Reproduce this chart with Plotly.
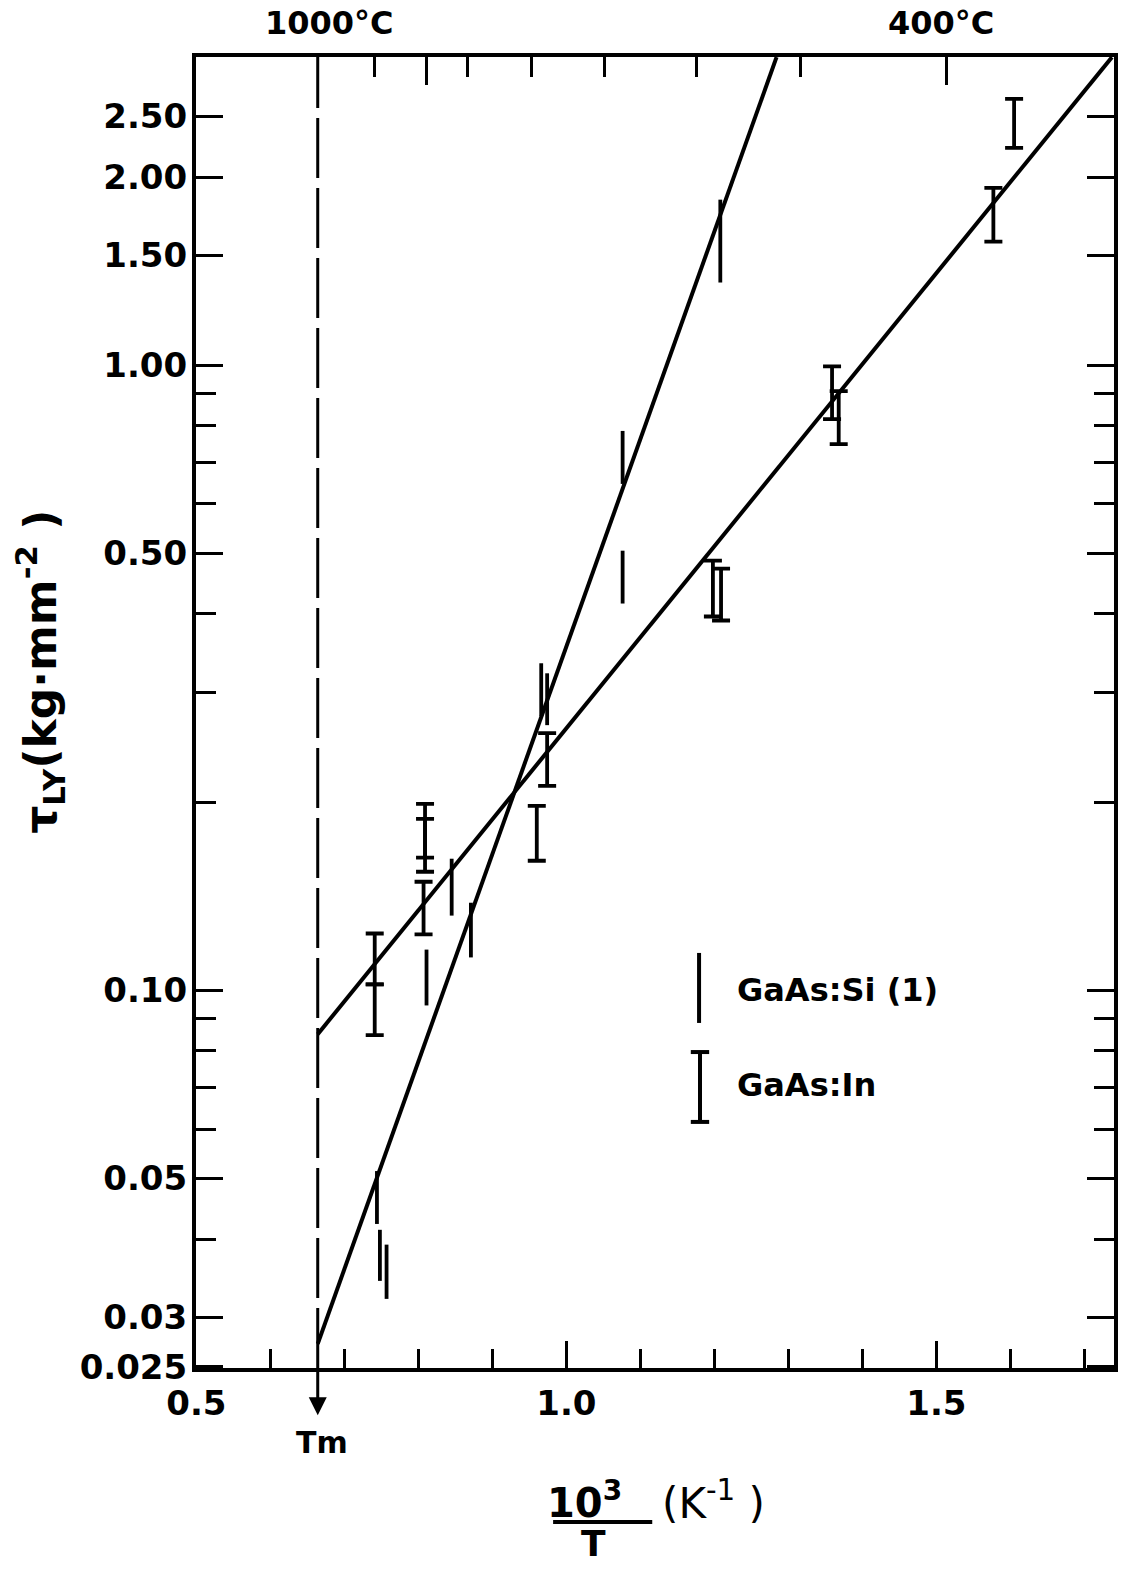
import numpy as np
import plotly.graph_objects as go

# ---------------- data ----------------
# GaAs:Si (1): vertical ranges without caps  (x = 10^3/T in K^-1)
si_x    = [0.744, 0.748, 0.757, 0.811, 0.845, 0.871, 0.966, 0.974, 1.076, 1.076, 1.208]
si_low  = [0.0423, 0.0343, 0.0321, 0.0946, 0.1317, 0.1129, 0.2746, 0.2656, 0.6458, 0.4157, 1.356]
si_high = [0.0514, 0.0414, 0.0392, 0.1162, 0.1624, 0.1381, 0.3336, 0.3215, 0.785, 0.505, 1.840]

# GaAs:In: error bars with caps
in_x    = [0.741, 0.741, 0.809, 0.809, 0.807, 0.960, 0.974, 1.198, 1.209, 1.359, 1.368, 1.577, 1.605]
in_low  = [0.1022, 0.0848, 0.1630, 0.1548, 0.1229, 0.1612, 0.2123, 0.3963, 0.3905, 0.820, 0.748, 1.577, 2.227]
in_high = [0.1233, 0.1022, 0.1987, 0.1880, 0.1492, 0.1973, 0.2579, 0.4870, 0.4728, 0.996, 0.909, 1.922, 2.666]

# fitted straight lines (log scale)
si_fit_x = [0.664, 1.284]
si_fit_y = [0.0272, 3.11]
in_fit_x = [0.664, 1.7372]
in_fit_y = [0.0851, 3.11]

# melting temperature marker
tm_x = 0.664

# axis ticks
x_major = [0.5, 1.0, 1.5]
x_major_text = ["0.5", "1.0", "1.5"]
x_minor = [0.6, 0.7, 0.8, 0.9, 1.1, 1.2, 1.3, 1.4, 1.6, 1.7]
y_major = [0.025, 0.03, 0.05, 0.1, 0.5, 1.0, 1.5, 2.0, 2.5]
y_major_text = ["0.025", "0.03", "0.05", "0.10", "0.50", "1.00", "1.50", "2.00", "2.50"]
y_minor = [0.04, 0.06, 0.07, 0.08, 0.09, 0.2, 0.3, 0.4, 0.6, 0.7, 0.8, 0.9]
# top temperature scale ticks (positions on the 10^3/T axis)
top_major = [0.8113, 1.5135]
top_minor = [0.7412, 0.8666, 0.9528, 1.0512, 1.1752, 1.3167]

X_RANGE = [0.4995, 1.74]
Y_RANGE = [np.log10(0.025) - 0.002, 0.493]

FONT = "DejaVu Sans"
BLACK = "black"

fig = go.Figure()

# fit lines
fig.add_trace(go.Scatter(x=si_fit_x, y=si_fit_y, mode="lines",
                         line=dict(color=BLACK, width=4), hoverinfo="skip"))
fig.add_trace(go.Scatter(x=in_fit_x, y=in_fit_y, mode="lines",
                         line=dict(color=BLACK, width=4), hoverinfo="skip"))

# GaAs:Si ranges
fig.add_trace(go.Scatter(
    x=si_x, y=si_low, mode="markers",
    marker=dict(size=1, opacity=0, color=BLACK),
    error_y=dict(type="data", symmetric=False,
                 array=[h - l for h, l in zip(si_high, si_low)],
                 arrayminus=[0] * len(si_x), width=0, thickness=3.8, color=BLACK),
    hoverinfo="skip"))

# GaAs:In error bars
fig.add_trace(go.Scatter(
    x=in_x, y=in_low, mode="markers",
    marker=dict(size=1, opacity=0, color=BLACK),
    error_y=dict(type="data", symmetric=False,
                 array=[h - l for h, l in zip(in_high, in_low)],
                 arrayminus=[0] * len(in_x), width=9, thickness=3.8, color=BLACK),
    hoverinfo="skip"))

# Tm dashed vertical line (on the top axis so that axis is rendered)
fig.add_trace(go.Scatter(x=[tm_x, tm_x], y=[10 ** Y_RANGE[0], 10 ** Y_RANGE[1]],
                         mode="lines", xaxis="x2",
                         line=dict(color=BLACK, width=3, dash="60px,10px"),
                         hoverinfo="skip"))

axis_common = dict(showline=True, linewidth=4, linecolor=BLACK, showgrid=False,
                   zeroline=False, tickcolor=BLACK, tickwidth=3, ticks="inside")

fig.update_layout(
    width=1132, height=1571,
    margin=dict(l=196, r=18, t=57, b=203),
    paper_bgcolor="white", plot_bgcolor="white",
    showlegend=False,
    font=dict(family=FONT, size=34, color=BLACK, weight="bold"),
    xaxis=dict(range=X_RANGE, tickmode="array", tickvals=x_major, ticktext=x_major_text,
               ticklen=27, ticklabelstandoff=2,
               minor=dict(tickmode="array", tickvals=x_minor, ticks="inside",
                          ticklen=19, tickwidth=3, tickcolor=BLACK, showgrid=False),
               **axis_common),
    xaxis2=dict(range=X_RANGE, overlaying="x", side="top", tickmode="array",
                tickvals=top_major, showticklabels=False, ticklen=28,
                minor=dict(tickmode="array", tickvals=top_minor, ticks="inside",
                           ticklen=20, tickwidth=3, tickcolor=BLACK, showgrid=False),
                **axis_common),
    yaxis=dict(type="log", range=Y_RANGE, tickmode="array", tickvals=y_major,
               ticktext=y_major_text, ticklen=27, mirror="ticks", ticklabelstandoff=-2,
               minor=dict(tickmode="array", tickvals=y_minor, ticks="inside",
                          ticklen=20, tickwidth=3, tickcolor=BLACK, showgrid=False),
               **axis_common),
)

# legend symbols (drawn in paper coordinates)
shapes = [
    dict(type="line", xref="paper", yref="paper", x0=0.548, x1=0.548, y0=0.2632, y1=0.3166,
         line=dict(color=BLACK, width=4)),
    dict(type="line", xref="paper", yref="paper", x0=0.549, x1=0.549, y0=0.1877, y1=0.241,
         line=dict(color=BLACK, width=4)),
    dict(type="line", xref="paper", yref="paper", x0=0.539, x1=0.559, y0=0.241, y1=0.241,
         line=dict(color=BLACK, width=4)),
    dict(type="line", xref="paper", yref="paper", x0=0.539, x1=0.559, y0=0.1877, y1=0.1877,
         line=dict(color=BLACK, width=4)),
    # fraction bar of the x-axis title
    dict(type="line", xref="paper", yref="paper", x0=0.389, x1=0.497, y0=-0.1175, y1=-0.1175,
         line=dict(color=BLACK, width=4)),
]
fig.update_layout(shapes=shapes)

ann = [
    dict(text="GaAs:Si (1)", x=0.587, y=0.2883, xanchor="left", yanchor="middle",
         font=dict(size=32)),
    dict(text="GaAs:In", x=0.587, y=0.2159, xanchor="left", yanchor="middle",
         font=dict(size=32)),
    dict(text="1000°C", x=0.1449, y=1.026, xanchor="center", yanchor="middle",
         font=dict(size=32)),
    dict(text="400°C", x=0.8115, y=1.026, xanchor="center", yanchor="middle",
         font=dict(size=32)),
    dict(text="Tm", x=0.1373, y=-0.0572, xanchor="center", yanchor="middle",
         font=dict(size=30)),
    dict(text="10<sup>3</sup>", x=0.4237, y=-0.1007, xanchor="center", yanchor="middle",
         font=dict(size=40)),
    dict(text="T", x=0.4325, y=-0.134, xanchor="center", yanchor="middle",
         font=dict(size=36)),
    dict(text="(K<sup>-1</sup> )", x=0.5054, y=-0.101, xanchor="left", yanchor="middle",
         font=dict(size=42, weight="normal")),
    dict(text="τ<sub>LY</sub>(kg·mm<sup>-2</sup> )", x=-0.17, y=0.531, textangle=-90,
         xanchor="center", yanchor="middle", font=dict(size=44)),
]
for a in ann:
    a.setdefault("xref", "paper")
    a.setdefault("yref", "paper")
    a["showarrow"] = False
fig.update_layout(annotations=ann)

# Tm arrow below the axis
fig.add_annotation(x=tm_x, y=-0.036, xref="x", yref="paper", text="",
                   showarrow=True, ax=0, ay=-47, arrowhead=2, arrowsize=1.2,
                   arrowwidth=3, arrowcolor=BLACK)

fig.write_html("out.html")
